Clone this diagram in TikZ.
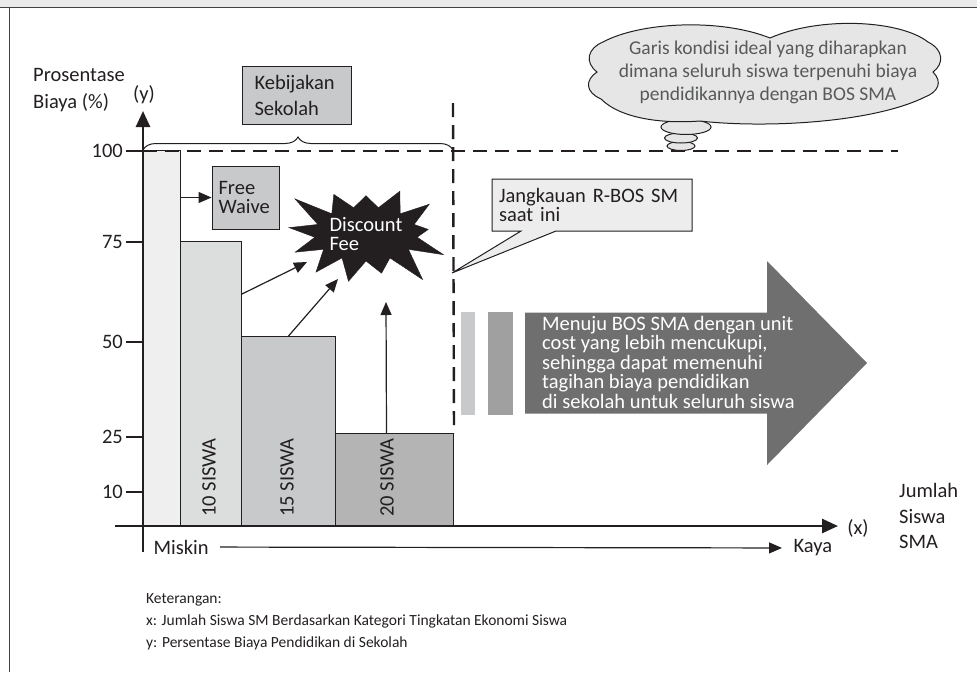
\documentclass[tikz,border=0pt]{standalone}
\usepackage{fontspec}
\setmainfont{Carlito}
\usetikzlibrary{arrows.meta, shapes.geometric, shapes.symbols, shapes.callouts, decorations.pathreplacing, positioning}

\definecolor{ink}{HTML}{231F20}
\definecolor{barA}{HTML}{EFEFEF}
\definecolor{barB}{HTML}{DCDDDD}
\definecolor{barC}{HTML}{C8C9CA}
\definecolor{barD}{HTML}{B4B4B4}
\definecolor{barE}{HTML}{A0A0A0}
\definecolor{goalgray}{HTML}{6F6F6F}
\definecolor{cloudgray}{HTML}{E6E6E6}
\definecolor{thoughttext}{HTML}{58595B}

\begin{document}
\begin{tikzpicture}
  [x=1pt, y=-1pt, font=\fontsize{20.5}{21}\selectfont, text=ink,
   bar/.style={draw=ink, line width=1pt, anchor=south west, inner sep=0pt},
   boxnode/.style={draw=ink, line width=1pt, align=left, inner sep=0pt},
   axis/.style={ink, line width=2.6pt, -{Triangle[length=16pt, width=14pt]}},
   tick/.style={ink, line width=1.3pt},
   arr/.style={ink, line width=1.2pt, -{Triangle[length=13pt, width=11pt]}},
   dashline/.style={ink, line width=2.4pt, dash pattern=on 14pt off 8pt},
   puff/.style={ellipse, draw=ink, fill=cloudgray, line width=1pt, inner sep=0pt},
   stripe/.style={inner sep=0pt, minimum height=103pt}]

\useasboundingbox (0,0) rectangle (977,673);

%%% frame
\fill [black!8] (0,0) rectangle (977,7);
\draw [ink!85, line width=1.6pt] (0,7.5) -- (977,7.5);
\draw [ink!85, line width=1.6pt] (9.5,7.5) -- (9.5,672);

%%% bars
\node [bar, fill=barA, minimum width=37pt, minimum height=375pt] (b1) at (143,526) {};
\node [bar, fill=barB, minimum width=61pt, minimum height=284pt] (b2) at (180,526) {};
\node [bar, fill=barC, minimum width=94pt, minimum height=189pt] (b3) at (241,526) {};
\node [bar, fill=barD, minimum width=118pt, minimum height=92pt] (b4) at (335,526) {};

\node [rotate=90, anchor=west, inner sep=0pt] (n10) at (209,517) {10 SISWA};
\node [rotate=90, anchor=west, inner sep=0pt] (n15) at (287,517) {15 SISWA};
\node [rotate=90, anchor=west, inner sep=0pt] (n20) at (387,517) {20 SISWA};

% ideal line and current reach
\draw [dashline] (143,151) -- (898,151);
\draw [dashline] (453,103) -- (b4.north east);

%%% axes
\coordinate (ytip) at (143,111);
\coordinate (xtip) at (838,526);
\draw [axis] (143,552) -- (ytip);
\draw [axis] (115,526) -- (xtip);

\foreach \v/\y in {100/151, 75/242, 50/342, 25/437, 10/492} {
  \draw [tick] (126,\y) -- (143,\y);
  \node [anchor=east, inner sep=0pt] (y\v) at (123,\y) {\v};
}

\node [anchor=west, align=left, inner sep=0pt, font=\fontsize{20.5}{27}\selectfont] (ylabel) at (33,90) {Prosentase\\Biaya (\%)};
\node [inner sep=0pt] (yname) at (144,95) {(y)};
\node [inner sep=0pt] (xname) at (858,528) {(x)};
\node [anchor=west, align=left, inner sep=0pt, font=\fontsize{20.5}{25.5}\selectfont] (xlabel) at (899,516) {Jumlah\\Siswa\\SMA};

\node [anchor=west] (miskin) at (150,547) {Miskin};
\node [anchor=west] (kaya) at (790,548) {Kaya};
\draw [arr, shorten <=8pt, shorten >=8pt] (miskin) -- (kaya);

%%% school policy
\draw [ink, line width=1pt, decorate, decoration={brace, amplitude=13pt}] (143,150) -- (453,150);
\node [boxnode, fill=barC, minimum width=109pt, minimum height=58pt, text width=84pt, font=\fontsize{20.5}{26}\selectfont] (policy) at (296.5,95) {Kebijakan\\Sekolah};

\node [boxnode, fill=barC, minimum width=67pt, minimum height=63pt, text width=54pt, font=\fontsize{20.5}{19}\selectfont] (waive) at (245.5,197.5) {Free\\Waive};

\node [starburst, fill=ink, draw=ink, starburst points=13, starburst point height=36pt, random starburst=3, minimum width=115pt, minimum height=126pt, inner sep=0pt, text=white, align=left, font=\fontsize{20.5}{19}\selectfont] (burst) at (366,234) {Discount\\Fee};

\coordinate (dA) at (307,262);
\coordinate (dB) at (338,279);
\coordinate (dC) at (386,302);

\draw [arr] (b1.east |- waive.west) -- (waive.west);
\draw [arr] ([yshift=-53pt]b2.north east) -- (dA);
\draw [arr] (b3.north) -- (dB);
\draw [arr] ([xshift=-8pt]b4.north) -- (dC);

%%% callout
\node [rectangle callout, draw=ink, fill=black!7, line width=1pt, minimum width=200pt, minimum height=52pt, text width=186pt, align=left, inner sep=0pt, callout absolute pointer={(452,273)}, callout pointer width=35pt, font=\fontsize{20.5}{19}\selectfont] (reach) at (592,205) {Jangkauan R-BOS SM\\saat ini};

%%% towards BOS SMA
\node [stripe, fill=barC, minimum width=14pt] (s1) at (468,363) {};
\node [stripe, fill=barE, minimum width=25pt] (s2) at (500.5,363) {};
\fill [goalgray] (525,312.5) -- (767,312.5) -- (767,261) -- (867,363) -- (767,465) -- (767,413.5) -- (525,413.5) -- cycle;
\node [anchor=west, align=left, inner sep=0pt, text=white, font=\fontsize{20.5}{19.5}\selectfont] (goal) at (542,362) {Menuju BOS SMA dengan unit\\cost yang lebih mencukupi,\\sehingga dapat memenuhi\\tagihan biaya pendidikan\\di sekolah untuk seluruh siswa};

%%% thought cloud
\node [puff, minimum width=28pt, minimum height=9pt] (p3) at (681,146) {};
\node [puff, minimum width=33pt, minimum height=10pt] (p2) at (681,138) {};
\node [puff, minimum width=50pt, minimum height=15pt] (p1) at (686,127) {};
\draw [ink, line width=1pt, fill=cloudgray]
  (597,72) .. controls (584,62) and (588,48) .. (603,42)
  .. controls (640,22) and (720,18) .. (770,38)
  .. controls (820,16) and (900,20) .. (928,42)
  .. controls (944,50) and (944,64) .. (933,72)
  .. controls (943,82) and (938,92) .. (925,97)
  .. controls (870,124) and (760,128) .. (700,121)
  .. controls (660,124) and (620,118) .. (601,99)
  .. controls (585,92) and (585,80) .. cycle;
\node [align=center, inner sep=0pt, text=thoughttext, font=\fontsize{19.5}{23}\selectfont] (dreamtext) at (768,72) {Garis kondisi ideal yang diharapkan\\dimana seluruh siswa terpenuhi biaya\\pendidikannya dengan BOS SMA};

%%% legend
\node [anchor=north west, align=left, inner sep=0pt, font=\fontsize{15.5}{22}\selectfont] (legend) at (146,593) {Keterangan:\\x: Jumlah Siswa SM Berdasarkan Kategori Tingkatan Ekonomi Siswa\\y: Persentase Biaya Pendidikan di Sekolah};

\end{tikzpicture}
\end{document}
